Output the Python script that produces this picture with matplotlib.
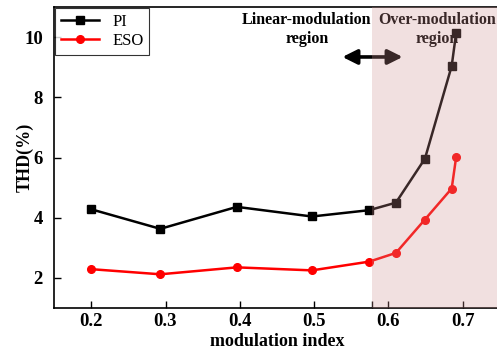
import matplotlib
matplotlib.use("Agg")
import matplotlib.pyplot as plt

# data
mod_index = [0.2, 0.293, 0.396, 0.497, 0.574, 0.61, 0.649, 0.685, 0.691]
thd_pi = [4.28, 3.63, 4.36, 4.04, 4.25, 4.50, 5.96, 9.04, 10.14]
thd_eso = [2.29, 2.12, 2.35, 2.25, 2.54, 2.83, 3.94, 4.97, 6.01]
x_ticks = [0.2, 0.3, 0.4, 0.5, 0.6, 0.7]
y_ticks = [2, 4, 6, 8, 10]
boundary = 0.578

plt.rcParams['font.family'] = ['Liberation Serif', 'DejaVu Serif']

fig = plt.figure(figsize=(4.97, 3.54), dpi=100)
ax = fig.add_axes([54 / 497, 1 - 308 / 354, (500 - 54) / 497, (308 - 7) / 354])

ax.plot(mod_index, thd_pi, color='black', lw=1.8, marker='s', ms=5.5, label='PI')
ax.plot(mod_index, thd_eso, color='red', lw=1.8, marker='o', ms=5.5, label='ESO')

# over-modulation shading sits on top of the lines, like the original
ax.axvspan(boundary, 0.8, color='#cf9090', alpha=0.28, lw=0, zorder=5)

ax.text(0.49, 10.85, 'Linear-modulation\nregion', ha='center', va='top',
        fontsize=11.5, fontweight='bold', linespacing=1.25, zorder=4)
ax.text(0.665, 10.85, 'Over-modulation\nregion', ha='center', va='top',
        fontsize=11.5, fontweight='bold', linespacing=1.25, zorder=4)
ax.annotate('', xy=(0.538, 9.34), xytext=(0.619, 9.34),
            arrowprops=dict(arrowstyle='<|-|>', color='black', lw=2.6,
                            mutation_scale=22, shrinkA=0, shrinkB=0), zorder=4)

ax.set_xlim(0.15, 0.75)
ax.set_ylim(1, 11)
ax.set_xticks(x_ticks)
ax.set_xticks([boundary], minor=True)
ax.set_yticks(y_ticks)
ax.tick_params(which='both', direction='in', length=5, width=1)
ax.tick_params(axis='y', pad=8)
for lab in ax.get_xticklabels() + ax.get_yticklabels():
    lab.set_fontweight('bold')
    lab.set_fontsize(13.5)
ax.set_xlabel('modulation index', fontsize=13, fontweight='bold', labelpad=2)
ax.set_ylabel('THD(%)', fontsize=13, fontweight='bold')
ax.yaxis.set_label_coords(-0.045, 0.5)
for s in ax.spines.values():
    s.set_linewidth(1.2)

leg = ax.legend(loc='upper left', fontsize=12, frameon=True, fancybox=False,
                edgecolor='black', handlelength=2.3, borderaxespad=0.05,
                labelspacing=0.2, borderpad=0.35)
leg.get_frame().set_linewidth(0.8)

fig.savefig('out.png', dpi=100)
